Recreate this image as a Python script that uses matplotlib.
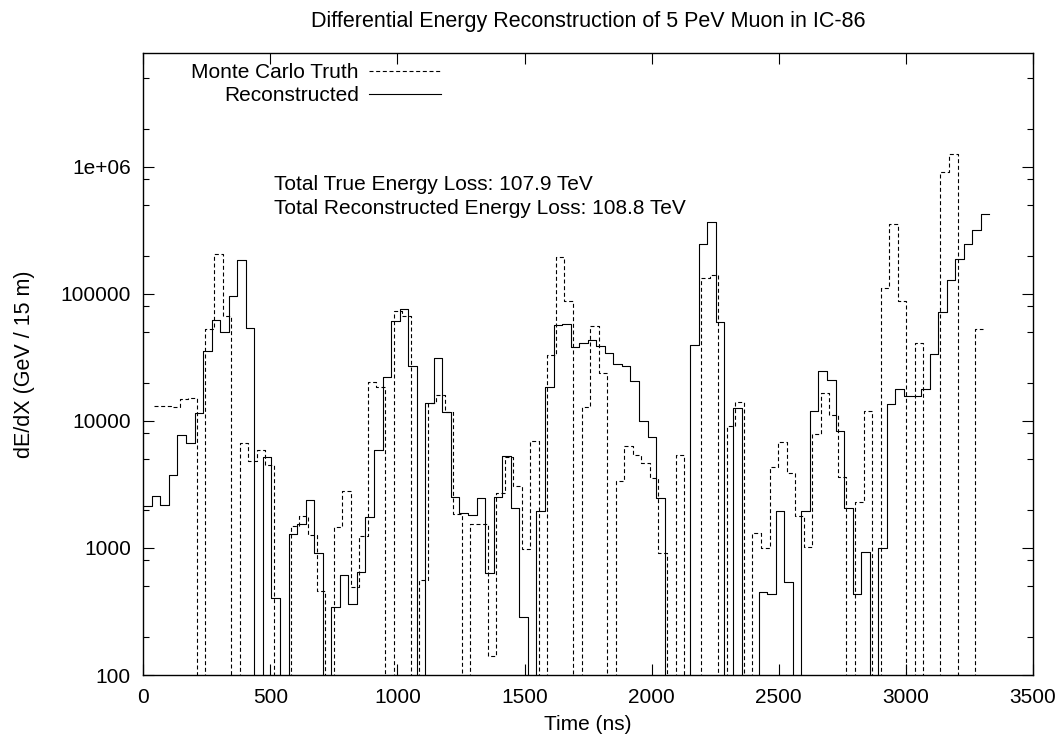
import numpy as np
import matplotlib
matplotlib.use("Agg")
import matplotlib.pyplot as plt
from matplotlib.ticker import FixedLocator, LogLocator, NullFormatter, FixedFormatter

plt.rcParams['font.family'] = ['Liberation Sans', 'DejaVu Sans']
plt.rcParams['font.size'] = 15

# dE/dX per time bin (GeV / 15 m); 0 = below the plotted range
reco = [2150, 2550, 2180, 3750, 7750, 6680, 11600, 35200, 62400, 50500,
        97000, 185000, 53500, 0, 5200, 407, 0, 1280, 1550, 2380,
        920, 0, 340, 615, 360, 650, 1760, 5900, 22200, 61500,
        75500, 27200, 0, 13900, 31000, 11700, 2510, 1890, 1830, 2490,
        634, 2520, 5330, 2060, 285, 0, 1950, 18600, 57200, 57800,
        38100, 40700, 43000, 38800, 34300, 28200, 27200, 20700, 9930, 7480,
        2480, 0, 0, 0, 39300, 248000, 369000, 60400, 0, 12700,
        0, 0, 452, 432, 1950, 538, 0, 1950, 12000, 24900,
        20900, 8340, 2080, 435, 923, 0, 994, 13600, 17900, 15600,
        15800, 17900, 33400, 72300, 129000, 189000, 245000, 319000, 425000]

truth = [np.nan, 13100, 13200, 12800, 14800, 15100, 0, 53000, 207000, 66500,
         0, 6700, 4850, 5950, 4500, 0, 0, 1490, 1800, 1260,
         455, 0, 1460, 2830, 495, 1250, 20200, 18400, 0, 73900,
         66800, 0, 556, 13900, 16100, 11700, 1850, 0, 1550, 1550,
         141, 2690, 5180, 3070, 975, 6950, 0, 33300, 194000, 87500,
         0, 12800, 56100, 23700, 0, 3370, 6340, 5430, 4660, 3580,
         916, 0, 5430, 0, 0, 132000, 141000, 0, 9160, 14100,
         0, 1320, 1000, 4320, 6800, 3890, 1770, 1010, 7840, 16600,
         11200, 3650, 0, 2310, 12000, 0, 112000, 357000, 87100, 0,
         41100, 0, 0, 911000, 1270000, 0, 0, 52800]

bin_width = 33.62      # ns
truth_offset = 9.4     # ns

y_ticks = [100, 1000, 10000, 100000, 1000000]
y_labels = ['100', '1000', '10000', '100000', '1e+06']
x_ticks = [0, 500, 1000, 1500, 2000, 2500, 3000, 3500]

reco_edges = np.arange(len(reco) + 1) * bin_width
truth_edges = truth_offset + np.arange(len(truth) + 1) * bin_width

fig = plt.figure(figsize=(10.62, 7.37), dpi=100)
ax = fig.add_axes([0.1349, 0.0841, 0.9727 - 0.1349, 0.9285 - 0.0841])

ax.step(truth_edges, np.append(truth, truth[-1]), where='post', color='black',
        lw=0.8, linestyle=(0, (3.6, 2.4)), label='Monte Carlo Truth')
ax.step(reco_edges, np.append(reco, reco[-1]), where='post', color='black',
        lw=0.8, label='Reconstructed')

ax.set_yscale('log')
ax.set_xlim(0, 3500)
ax.set_ylim(100, 7.9e6)

ax.yaxis.set_major_locator(FixedLocator(y_ticks))
ax.yaxis.set_major_formatter(FixedFormatter(y_labels))
ax.yaxis.set_minor_locator(LogLocator(base=10, subs=[2, 5, 8]))
ax.yaxis.set_minor_formatter(NullFormatter())
ax.xaxis.set_major_locator(FixedLocator(x_ticks))
ax.tick_params(which='both', direction='in', top=True, right=True, width=0.8)
ax.tick_params(which='major', length=8, pad=9)
ax.tick_params(which='minor', length=4)
for s in ax.spines.values():
    s.set_linewidth(1.0)

ax.set_xlabel('Time (ns)', labelpad=6)
ax.set_ylabel('dE/dX (GeV / 15 m)', fontsize=15.5)
ax.yaxis.set_label_coords(-0.122, 0.5)
fig.text(588 / 1062, 1 - 22 / 737, 'Differential Energy Reconstruction of 5 PeV Muon in IC-86',
         ha='center', va='center', fontsize=15.5)

ax.text(513, 720000, 'Total True Energy Loss: 107.9 TeV', ha='left', va='center')
ax.text(513, 470000, 'Total Reconstructed Energy Loss: 108.8 TeV', ha='left', va='center')

ax.legend(loc='upper left', bbox_to_anchor=(0.0446, 0.9963), frameon=False,
          markerfirst=False, handlelength=3.45, handletextpad=0.48,
          labelspacing=0.18, borderaxespad=0)

fig.savefig('out.png', dpi=100)
